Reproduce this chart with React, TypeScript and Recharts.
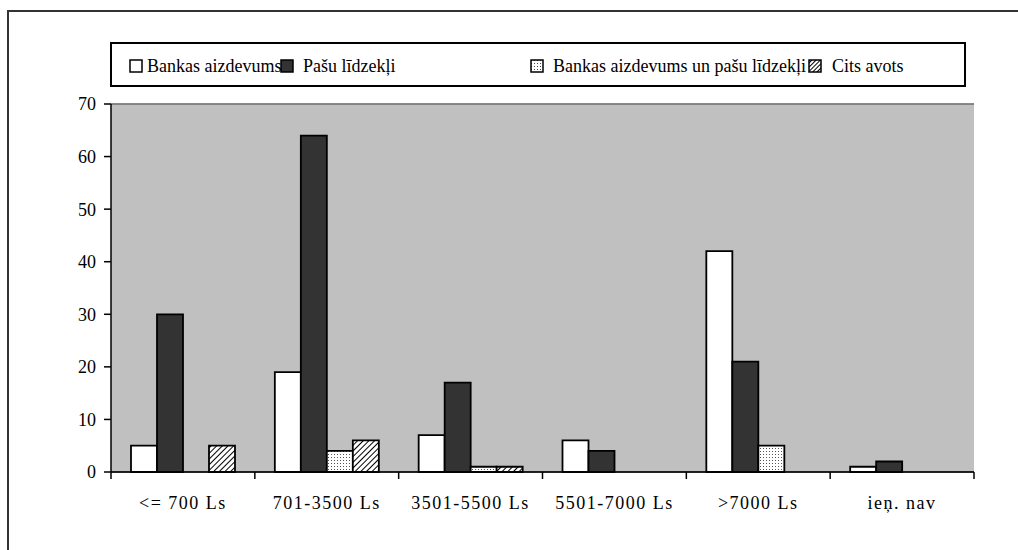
import React from 'react';
import { BarChart, Bar, XAxis, YAxis, CartesianGrid, Legend, ReferenceLine } from 'recharts';

const categories = ['<= 700 Ls', '701-3500 Ls', '3501-5500 Ls', '5501-7000 Ls', '>7000 Ls', 'ieņ. nav'];
const bankLoan = [5, 19, 7, 6, 42, 1];
const ownFunds = [30, 64, 17, 4, 21, 2];
const loanAndOwn = [0, 4, 1, 0, 5, 0];
const otherSource = [5, 6, 1, 0, 0, 0];
const yTicks = [0, 10, 20, 30, 40, 50, 60, 70];

const seriesNames = ['Bankas aizdevums', 'Pašu līdzekļi', 'Bankas aizdevums un pašu līdzekļi', 'Cits avots'];

const data = categories.map((name, i) => ({
  name,
  bank: bankLoan[i],
  own: ownFunds[i],
  both: loanAndOwn[i],
  other: otherSource[i],
}));

const W = 1018;
const H = 550;
const margin = { top: 104, right: 44, bottom: 38, left: 61 };
const plotW = W - margin.left - 50 - margin.right;
const band = plotW / categories.length;
const font = 'Liberation Serif';

const XTick = (props: any) => {
  const { x, y, payload, index } = props;
  return (
    <g>
      <line x1={x - band / 2} y1={y} x2={x - band / 2} y2={y + 7} stroke="#000" strokeWidth={1.5} />
      {index === categories.length - 1 && (
        <line x1={x + band / 2} y1={y} x2={x + band / 2} y2={y + 7} stroke="#000" strokeWidth={1.5} />
      )}
      <text x={x} y={y + 37} textAnchor="middle" style={{ fontFamily: font, fontSize: 18 }} fill="#000" letterSpacing={1.5}>
        {payload.value}
      </text>
    </g>
  );
};

const Swatch = ({ kind }: { kind: number }) => {
  const fills = ['#ffffff', '#333333', 'url(#dotsLeg)', 'url(#hatchLeg)'];
  return (
    <svg width={14} height={14} style={{ display: 'inline-block', verticalAlign: 'middle' }}>
      <defs>
        <pattern id="dotsLeg" width={3} height={3} patternUnits="userSpaceOnUse">
          <rect width={3} height={3} fill="#fff" />
          <rect x={1} y={1} width={1} height={1} fill="#444" />
        </pattern>
        <pattern id="hatchLeg" width={3} height={3} patternUnits="userSpaceOnUse" patternTransform="rotate(45)">
          <rect width={3} height={3} fill="#fff" />
          <line x1={0} y1={0} x2={0} y2={3} stroke="#000" strokeWidth={2} />
        </pattern>
      </defs>
      <rect x={1} y={1} width={12} height={12} fill={fills[kind]} stroke="#000" strokeWidth={1.5} />
    </svg>
  );
};

const legendLefts = [17, 168, 418, 696];
const legendGaps = [4, 9, 9, 10];

const renderLegend = () => (
  <div
    style={{
      position: 'relative',
      width: 852,
      height: 41,
      border: '2px solid #000',
      background: '#fff',
      fontFamily: font,
      fontSize: 18,
      color: '#000',
    }}
  >
    {seriesNames.map((n, i) => (
      <div
        key={n}
        style={{ position: 'absolute', left: legendLefts[i], top: 10, whiteSpace: 'nowrap', lineHeight: '20px' }}
      >
        <Swatch kind={i} />
        <span style={{ marginLeft: legendGaps[i], verticalAlign: 'middle' }}>{n}</span>
      </div>
    ))}
  </div>
);

export default function App() {
  return (
    <div style={{ position: 'absolute', left: 0, top: 0, width: W, height: H, overflow: 'hidden', background: '#fff' }}>
      <div
        style={{
          position: 'absolute',
          left: 7,
          top: 10,
          width: 1100,
          height: 600,
          borderLeft: '2px solid #333',
          borderTop: '2px solid #333',
        }}
      />
      <div style={{ position: 'absolute', left: 0, top: 0 }}>
        <BarChart width={W} height={H} data={data} margin={margin} barGap={0} barCategoryGap={20}>
          <defs>
            <pattern id="dots" width={3} height={3} patternUnits="userSpaceOnUse">
              <rect width={3} height={3} fill="#fff" />
              <rect x={1} y={1} width={1} height={1} fill="#555" />
            </pattern>
            <pattern id="hatch" width={4} height={4} patternUnits="userSpaceOnUse" patternTransform="rotate(45)">
              <rect width={4} height={4} fill="#fff" />
              <line x1={0} y1={0} x2={0} y2={4} stroke="#000" strokeWidth={2} />
            </pattern>
          </defs>
          <CartesianGrid fill="#c0c0c0" stroke="#222" strokeWidth={1} vertical={false} />
          <XAxis
            dataKey="name"
            tick={<XTick />}
            tickLine={false}
            tickSize={0}
            tickMargin={0}
            height={40}
            interval={0}
            axisLine={{ stroke: '#000', strokeWidth: 1.5 }}
          />
          <YAxis
            yAxisId="left"
            domain={[0, 70]}
            ticks={yTicks}
            width={50}
            tickSize={7}
            tickMargin={8}
            axisLine={{ stroke: '#000', strokeWidth: 1.5 }}
            tickLine={{ stroke: '#000', strokeWidth: 1.5 }}
            tick={{ fontFamily: font, fontSize: 18, fill: '#000', style: { fontFamily: font } }}
          />
          <YAxis
            yAxisId="right"
            orientation="right"
            domain={[0, 70]}
            width={0}
            tick={false}
            tickLine={false}
            axisLine={{ stroke: '#888', strokeWidth: 1.5 }}
          />
          <ReferenceLine yAxisId="left" y={70} stroke="#888" strokeWidth={1.5} />
          <Legend
            content={renderLegend}
            layout="horizontal"
            verticalAlign="middle"
            align="center"
            wrapperStyle={{ left: 110, top: 42, width: 856, height: 45 }}
          />
          <Bar yAxisId="left" dataKey="bank" name={seriesNames[0]} fill="#fff" stroke="#000" strokeWidth={1.8} isAnimationActive={false} />
          <Bar yAxisId="left" dataKey="own" name={seriesNames[1]} fill="#333" stroke="#000" strokeWidth={1.8} isAnimationActive={false} />
          <Bar yAxisId="left" dataKey="both" name={seriesNames[2]} fill="url(#dots)" stroke="#000" strokeWidth={1.8} isAnimationActive={false} />
          <Bar yAxisId="left" dataKey="other" name={seriesNames[3]} fill="url(#hatch)" stroke="#000" strokeWidth={1.8} isAnimationActive={false} />
        </BarChart>
      </div>
    </div>
  );
}
